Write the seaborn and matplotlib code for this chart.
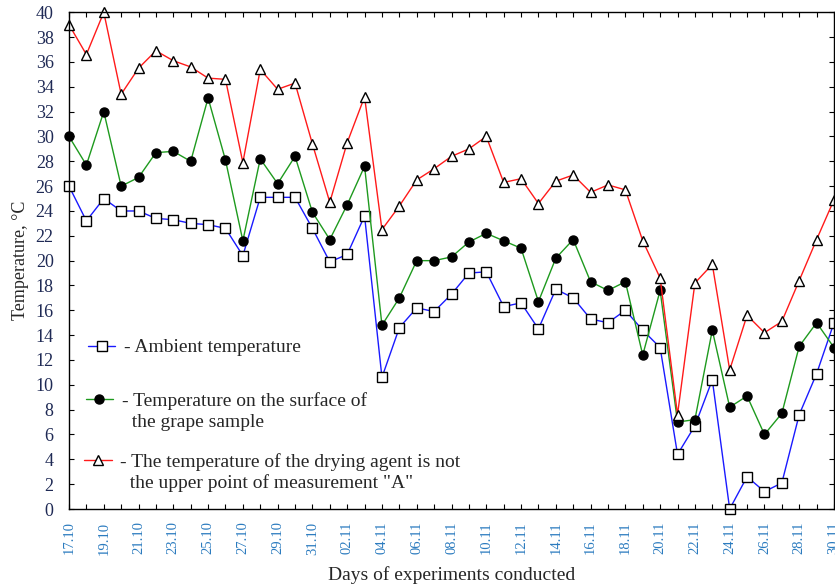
import numpy as np
import pandas as pd
import matplotlib
matplotlib.use("Agg")
import matplotlib.pyplot as plt
from matplotlib.lines import Line2D
import seaborn as sns

# ---------------------------
# Data
# ---------------------------
DAYS = [
    "17.10", "18.10", "19.10", "20.10", "21.10", "22.10", "23.10", "24.10",
    "25.10", "26.10", "27.10", "28.10", "29.10", "30.10", "31.10", "01.11",
    "02.11", "03.11", "04.11", "05.11", "06.11", "07.11", "08.11", "09.11",
    "10.11", "11.11", "12.11", "13.11", "14.11", "15.11", "16.11", "17.11",
    "18.11", "19.11", "20.11", "21.11", "22.11", "23.11", "24.11", "25.11",
    "26.11", "27.11", "28.11", "29.11", "30.11",
]

AMBIENT = [
    26.0, 23.2, 25.0, 24.0, 24.0, 23.4, 23.3, 23.0, 22.9, 22.6, 20.4, 25.1,
    25.1, 25.1, 22.6, 19.9, 20.5, 23.6, 10.6, 14.6, 16.2, 15.9, 17.3, 19.0,
    19.1, 16.3, 16.6, 14.5, 17.7, 17.0, 15.3, 15.0, 16.0, 14.4, 13.0, 4.4,
    6.7, 10.4, 0.0, 2.6, 1.4, 2.1, 7.6, 10.9, 15.0,
]

SURFACE = [
    30.0, 27.7, 32.0, 26.0, 26.7, 28.7, 28.8, 28.0, 33.1, 28.1, 21.6, 28.2,
    26.2, 28.4, 23.9, 21.7, 24.5, 27.6, 14.8, 17.0, 20.0, 20.0, 20.3, 21.5,
    22.2, 21.6, 21.0, 16.7, 20.2, 21.7, 18.3, 17.6, 18.3, 12.4, 17.6, 7.0,
    7.2, 14.4, 8.2, 9.1, 6.0, 7.7, 13.1, 15.0, 13.0,
]

DRYING_AGENT = [
    39.0, 36.6, 40.0, 33.4, 35.5, 36.9, 36.1, 35.6, 34.7, 34.6, 27.9, 35.4,
    33.8, 34.3, 29.4, 24.7, 29.5, 33.2, 22.5, 24.4, 26.5, 27.4, 28.4, 29.0,
    30.0, 26.3, 26.6, 24.6, 26.4, 26.9, 25.5, 26.1, 25.7, 21.6, 18.6, 7.6,
    18.2, 19.7, 11.2, 15.6, 14.2, 15.1, 18.4, 21.7, 24.9,
]

LABEL_AMBIENT = ["- Ambient temperature"]
LABEL_SURFACE = ["- Temperature on the surface of", "  the grape sample"]
LABEL_AGENT = ["- The temperature of the drying agent is not",
               "  the upper point of measurement \"A\""]

# ---------------------------
# Style
# ---------------------------
sns.set_style("ticks")
plt.rcParams["font.family"] = ["Liberation Serif", "DejaVu Serif"]

df = pd.DataFrame({
    "day": np.arange(len(DAYS)),
    "ambient": AMBIENT,
    "surface": SURFACE,
    "agent": DRYING_AGENT,
})

fig = plt.figure(figsize=(8.35, 5.87), dpi=100)
ax = fig.add_axes([69 / 835, 1 - 509 / 587, 765 / 835, (509 - 12.3) / 587])

common = dict(linewidth=1.0, clip_on=False, markeredgewidth=1.0, legend=False)
sns.lineplot(data=df, x="day", y="ambient", ax=ax, color="#1a1aff",
             marker="s", markersize=6.5, markerfacecolor="white",
             markeredgecolor="black", **common)
sns.lineplot(data=df, x="day", y="surface", ax=ax, color="#1e9a1e",
             marker="o", markersize=6.5, markerfacecolor="black",
             markeredgecolor="black", **common)
sns.lineplot(data=df, x="day", y="agent", ax=ax, color="#ff1a1a",
             marker="^", markersize=7.5, markerfacecolor="white",
             markeredgecolor="black", **common)

ax.set_xlim(0, len(DAYS) - 1)
ax.set_ylim(0, 40)
ax.set_xticks(np.arange(len(DAYS)))
ax.set_xticklabels([d if i % 2 == 0 else "" for i, d in enumerate(DAYS)],
                   rotation=90, fontsize=10.5, color="#2b7bbf")
ax.set_yticks(np.arange(0, 41, 2))
ax.set_yticklabels([str(v) for v in range(0, 41, 2)], fontsize=13,
                   color="#1f2a55")
ax.tick_params(axis="both", direction="in", length=3.5, width=0.8,
               top=True, right=True, colors="black")
ax.tick_params(axis="x", pad=9, labelcolor="#2b7bbf")
ax.tick_params(axis="y", pad=11, labelcolor="#1f2a55")
for s in ax.spines.values():
    s.set_linewidth(1.0)
    s.set_color("black")

ax.set_xlabel("Days of experiments conducted", fontsize=14, labelpad=8)
ax.set_ylabel("Temperature, \u00b0C", fontsize=13, labelpad=5)

# ---------------------------
# Legend: three separate blocks so the handle sits on the first line
# ---------------------------
lines = ax.get_lines()
blank = Line2D([], [], linestyle="none")
leg_kw = dict(frameon=False, fontsize=14, borderpad=0, borderaxespad=0,
              handlelength=1.4, handletextpad=0.45, labelspacing=0.2,
              numpoints=1, loc="center left")


def proxy(src):
    return Line2D([], [], color=src.get_color(), linewidth=1.0,
                  marker=src.get_marker(), markersize=src.get_markersize(),
                  markerfacecolor=src.get_markerfacecolor(),
                  markeredgecolor="black")


leg1 = ax.legend([proxy(lines[0])], LABEL_AMBIENT,
                 bbox_to_anchor=(0.025, 0.325), **leg_kw)
ax.add_artist(leg1)
leg2 = ax.legend([proxy(lines[1]), blank], LABEL_SURFACE,
                 bbox_to_anchor=(0.022, 0.196), **leg_kw)
ax.add_artist(leg2)
leg3 = ax.legend([proxy(lines[2]), blank], LABEL_AGENT,
                 bbox_to_anchor=(0.020, 0.0735), **leg_kw)

fig.savefig("out.png", dpi=100)
